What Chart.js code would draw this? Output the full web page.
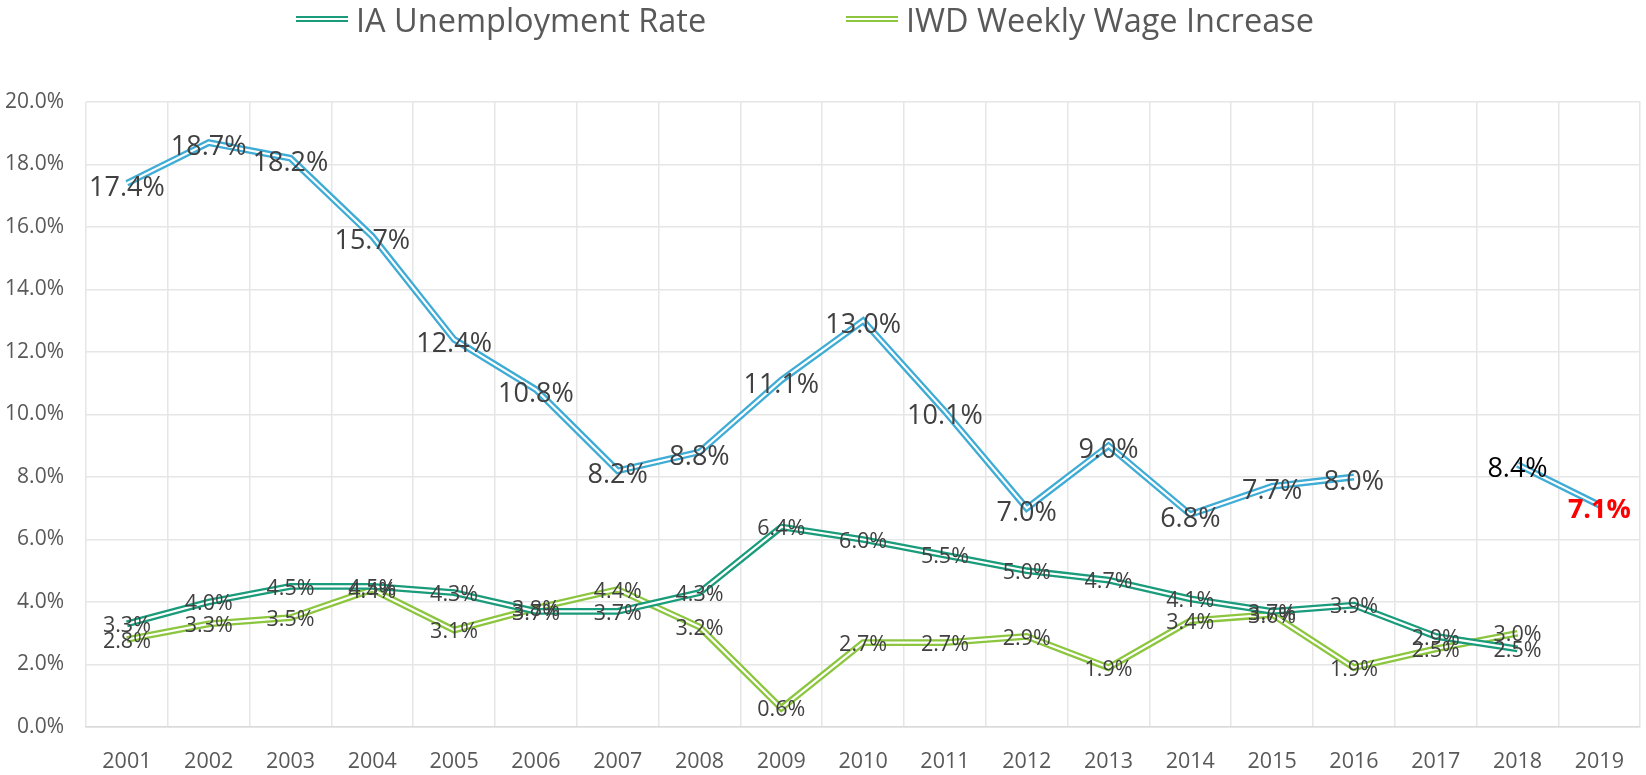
<!DOCTYPE html>
<html>
<head>
<meta charset="utf-8">
<script src="https://cdn.jsdelivr.net/npm/chart.js@4/dist/chart.umd.min.js"></script>
<style>
    body { margin: 0; background: #fff; }
    #wrap { position: relative; width: 1646px; height: 775px; }
    .legend-item { position: absolute; top: 0; height: 38px; display: flex; align-items: center;
        font-family: "Open Sans", sans-serif; font-size: 32.5px; color: #595959; white-space: nowrap; }
    .legend-mark { width: 52px; height: 2px; margin-right: 8px; border-top: 2.5px solid; border-bottom: 2.5px solid; }
</style>
</head>
<body>
<div id="wrap">
    <div class="legend-item" style="left:296px"><span class="legend-mark" style="border-color:#1a9b7b"></span>IA Unemployment Rate</div>
    <div class="legend-item" style="left:846px"><span class="legend-mark" style="border-color:#8cc63f"></span>IWD Weekly Wage Increase</div>
    <canvas id="rateChart" width="1646" height="775"></canvas>
</div>
<script>
// Years on the x axis
const years = ['2001', '2002', '2003', '2004', '2005', '2006', '2007', '2008', '2009', '2010',
    '2011', '2012', '2013', '2014', '2015', '2016', '2017', '2018', '2019'];

// Blue series (not in the legend), no value for 2017
const blueSeries = [17.4, 18.7, 18.2, 15.7, 12.4, 10.8, 8.2, 8.8, 11.1, 13.0,
    10.1, 7.0, 9.0, 6.8, 7.7, 8.0, null, 8.4, 7.1];

// IA Unemployment Rate
const iaUnemployment = [3.3, 4.0, 4.5, 4.5, 4.3, 3.7, 3.7, 4.3, 6.4, 6.0,
    5.5, 5.0, 4.7, 4.1, 3.7, 3.9, 2.9, 2.5, null];

// IWD Weekly Wage Increase
const iwdWageIncrease = [2.8, 3.3, 3.5, 4.4, 3.1, 3.8, 4.4, 3.2, 0.6, 2.7,
    2.7, 2.9, 1.9, 3.4, 3.6, 1.9, 2.5, 3.0, null];

// Y axis ticks
const yTicks = [0, 2, 4, 6, 8, 10, 12, 14, 16, 18, 20];

const FONT = '"Open Sans", sans-serif';
const BLUE = '#3eacd5';
const DARK_GREEN = '#1a9b7b';
const LIGHT_GREEN = '#8cc63f';

// Excel style "double" line: a wide coloured stroke with a thin white stroke on top
function whiteCore(data) {
    return {
        data: data,
        borderColor: '#ffffff',
        borderWidth: 2.2,
        pointRadius: 0,
        tension: 0
    };
}

// Draws the value labels centred on each point
const valueLabels = {
    id: 'valueLabels',
    afterDatasetsDraw(chart) {
        const ctx = chart.ctx;
        chart.data.datasets.forEach((ds, i) => {
            if (!ds.labelSize) return;
            const meta = chart.getDatasetMeta(i);
            meta.data.forEach((pt, j) => {
                const v = ds.data[j];
                if (v === null || v === undefined) return;
                ctx.save();
                const bold = ds.labelBold && ds.labelBold(j);
                ctx.font = (bold ? 'bold ' : '') + ds.labelSize + 'px ' + FONT;
                ctx.fillStyle = ds.labelColor ? ds.labelColor(j) : '#404040';
                ctx.textAlign = 'center';
                ctx.textBaseline = 'middle';
                ctx.fillText(v.toFixed(1) + '%', pt.x, pt.y + ds.labelShift);
                ctx.restore();
            });
        });
    }
};

document.addEventListener('DOMContentLoaded', function() {
    const ctx = document.getElementById('rateChart').getContext('2d');

    new Chart(ctx, {
        type: 'line',
        data: {
            labels: years,
            datasets: [
                whiteCore(blueSeries),
                {
                    label: 'Series',
                    data: blueSeries,
                    borderColor: BLUE,
                    borderWidth: 6.8,
                    pointRadius: 0,
                    tension: 0,
                    labelSize: 27,
                    labelShift: 5,
                    labelColor: j => j === 18 ? '#ff0000' : (j === 17 ? '#000000' : '#404040'),
                    labelBold: j => j === 18
                },
                whiteCore(iaUnemployment),
                {
                    label: 'IA Unemployment Rate',
                    data: iaUnemployment,
                    borderColor: DARK_GREEN,
                    borderWidth: 6.8,
                    pointRadius: 0,
                    tension: 0,
                    labelSize: 21.5,
                    labelShift: 2
                },
                whiteCore(iwdWageIncrease),
                {
                    label: 'IWD Weekly Wage Increase',
                    data: iwdWageIncrease,
                    borderColor: LIGHT_GREEN,
                    borderWidth: 6.8,
                    pointRadius: 0,
                    tension: 0,
                    labelSize: 21.5,
                    labelShift: 2
                }
            ]
        },
        options: {
            responsive: false,
            animation: false,
            layout: {
                padding: { top: 102, right: 3, bottom: 0, left: 0 }
            },
            plugins: {
                legend: { display: false },
                tooltip: { enabled: false }
            },
            scales: {
                x: {
                    offset: true,
                    grid: {
                        offset: true,
                        color: '#e6e6e6',
                        lineWidth: 1.5,
                        drawTicks: false
                    },
                    border: { color: '#d9d9d9', width: 1.5 },
                    ticks: {
                        font: { family: FONT, size: 21.5 },
                        color: '#595959',
                        padding: 22,
                        maxRotation: 0,
                        autoSkip: false
                    },
                    afterFit: function(scale) {
                        scale.height = 48;
                    }
                },
                y: {
                    min: yTicks[0],
                    max: yTicks[yTicks.length - 1],
                    afterBuildTicks: function(scale) {
                        scale.ticks = yTicks.map(v => ({ value: v }));
                    },
                    grid: {
                        color: '#e6e6e6',
                        lineWidth: 1.5,
                        drawTicks: false
                    },
                    border: { display: false },
                    ticks: {
                        font: { family: FONT, size: 21 },
                        color: '#595959',
                        padding: 22,
                        callback: function(value) {
                            return value.toFixed(1) + '%';
                        }
                    },
                    afterFit: function(scale) {
                        scale.width = 86;
                    }
                }
            }
        },
        plugins: [valueLabels]
    });
});
</script>
</body>
</html>
